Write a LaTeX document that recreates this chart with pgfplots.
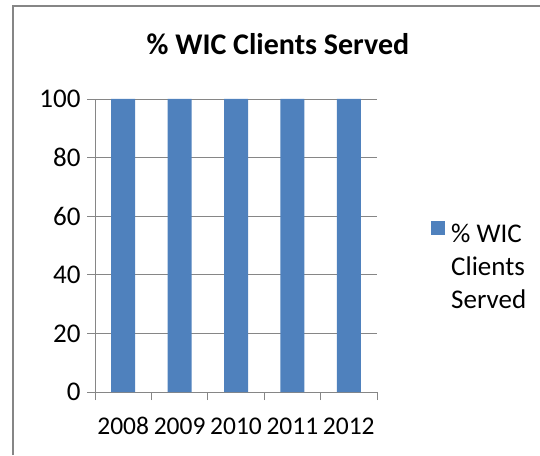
\documentclass[border=0pt]{standalone}
\usepackage{fontspec}
\setmainfont{Carlito}
\usepackage{pgfplots}
\pgfplotsset{compat=1.18}
\definecolor{barblue}{HTML}{4F81BD}
\definecolor{gridgray}{HTML}{868686}
\begin{document}
\begin{tikzpicture}
\useasboundingbox (0,0) rectangle (540pt,455pt);
\draw[gridgray, line width=1.2pt] (13pt,0) -- (13pt,449pt) -- (540pt,449pt);
\node[font=\fontsize{30}{36}\selectfont\bfseries] at (278pt,411pt) {\% WIC Clients Served};
\begin{axis}[
  at={(95pt,63pt)}, anchor=south west,
  scale only axis, width=282pt, height=293pt,
  xmin=0.5, xmax=5.5, ymin=0, ymax=100,
  ybar, bar width=24pt,
  ytick={0,20,...,100},
  xtick={0.5,1.5,...,5.5}, xticklabels={},
  extra x ticks={1,2,3,4,5},
  extra x tick labels={2008,2009,2010,2011,2012},
  extra x tick style={major tick length=0pt, tick style={draw=none},
    xticklabel style={yshift=-22pt, font=\fontsize{25.5}{30}\selectfont}},
  axis x line*=bottom, axis y line*=left,
  x axis line style={-, gridgray, line width=0.8pt},
  y axis line style={-, gridgray, line width=0.8pt},
  tick style={gridgray, line width=0.8pt},
  tick align=outside, major tick length=8pt,
  ymajorgrids, grid style={gridgray, line width=0.8pt},
  tick label style={font=\fontsize{27}{32}\selectfont},
  yticklabel style={xshift=-3pt},
  /pgf/number format/assume math mode=true,
  legend style={draw=none, fill=none, at={(1,0.5)}, anchor=west, xshift=51pt, yshift=12pt,
    font=\fontsize{27}{33}\selectfont},
  legend image code/.code={\fill[barblue] (0pt,0pt) rectangle (14pt,14pt);},
]
\addplot[fill=barblue, draw=none] coordinates {(1,100) (2,100) (3,100) (4,100) (5,100)};
\addlegendentry{\hspace{4pt}\parbox[t]{80pt}{\raggedright \% WIC\\Clients\\Served}}
\end{axis}
\end{tikzpicture}
\end{document}
